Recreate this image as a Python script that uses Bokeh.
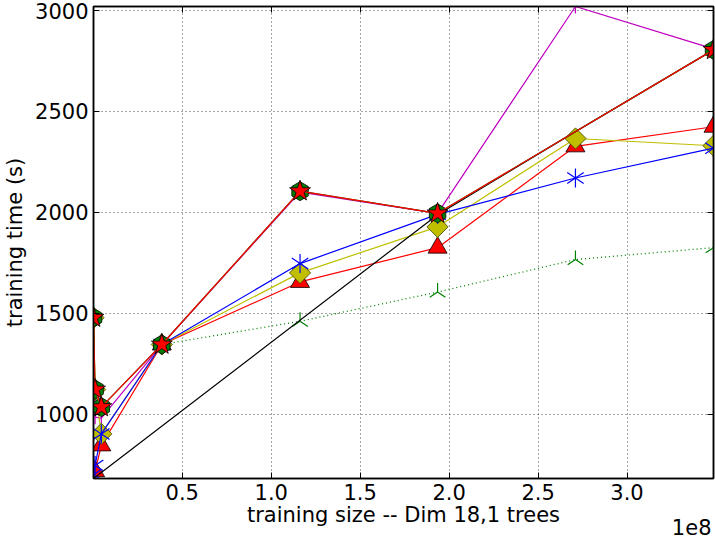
from math import pi
from bokeh.plotting import figure
from bokeh.models import Range1d, FixedTicker, LinearAxis, Label
from bokeh.embed import file_html
from bokeh.resources import INLINE

# ---- data ----
x_ticks = [50000000, 100000000, 150000000, 200000000, 250000000, 300000000]
x_tick_labels = ["0.5", "1.0", "1.5", "2.0", "2.5", "3.0"]
y_ticks = [1000, 1500, 2000, 2500, 3000]
y_tick_labels = ["1000", "1500", "2000", "2500", "3000"]

star_x = [1e5, 1e6, 4.5e6, 3.85e7, 1.162e8, 1.935e8, 3.486e8]
star_y = [1478, 1122, 1035, 1345, 2105, 1995, 2805]

pent_x = [1e5, 1e6, 4.5e6, 3.85e7, 1.162e8, 1.935e8, 3.486e8]
pent_y = [1478, 1122, 1035, 1345, 2105, 1995, 2805]

mag_x = [1e5, 1e6, 4.5e6, 3.85e7, 1.162e8, 1.935e8, 2.71e8, 3.486e8]
mag_y = [1478, 985, 980, 1345, 2100, 1995, 3020, 2810]

yel_x = [1e5, 1e6, 4.5e6, 3.85e7, 1.162e8, 1.935e8, 2.71e8, 3.486e8]
yel_y = [1478, 1122, 902, 1345, 1700, 1928, 2366, 2330]

blue_x = [1e5, 1e6, 4.5e6, 3.85e7, 1.162e8, 1.935e8, 2.71e8, 3.486e8]
blue_y = [700, 746, 902, 1345, 1746, 1990, 2170, 2318]

tri_x = [1e6, 4.5e6, 3.85e7, 1.162e8, 1.935e8, 2.71e8, 3.486e8]
tri_y = [717, 845, 1345, 1655, 1825, 2327, 2424]

gdot_x = [3.85e7, 1.162e8, 1.935e8, 2.71e8, 3.486e8]
gdot_y = [1345, 1460, 1605, 1766, 1825]

blk_x = [1e5, 1.935e8, 2.71e8, 3.486e8]
blk_y = [681, 1988, 2400, 2805]

FONT = "DejaVu Sans"
FS = "21px"

p = figure(width=715, height=545, output_backend="svg", toolbar_location=None,
           x_range=Range1d(1e5, 3.486e8), y_range=Range1d(681, 3020),
           min_border_left=93, min_border_right=2, min_border_top=6,
           min_border_bottom=59)
p.background_fill_color = "white"
p.border_fill_color = "white"
p.outline_line_color = "black"
p.outline_line_width = 1.5

p.xaxis.ticker = FixedTicker(ticks=x_ticks)
p.xaxis.major_label_overrides = dict(zip(x_ticks, x_tick_labels))
p.yaxis.ticker = FixedTicker(ticks=y_ticks)
p.yaxis.major_label_overrides = dict(zip(y_ticks, y_tick_labels))
p.xaxis.axis_label = "training size -- Dim 18,1 trees"
p.yaxis.axis_label = "training time (s)"

for ax in (p.xaxis[0], p.yaxis[0]):
    ax.major_tick_in = 6
    ax.major_tick_out = 0
    ax.minor_tick_line_color = None
    ax.axis_line_width = 1.5
    ax.axis_line_color = "black"
    ax.major_tick_line_color = "black"
    ax.major_label_text_font = FONT
    ax.major_label_text_font_size = FS
    ax.major_label_text_color = "black"
    ax.axis_label_text_font = FONT
    ax.axis_label_text_font_size = FS
    ax.axis_label_text_font_style = "normal"
    ax.axis_label_text_color = "black"
p.xaxis.major_label_standoff = 5
p.xaxis.axis_label_standoff = 0
p.yaxis.major_label_standoff = 5
p.yaxis.axis_label_standoff = 5

# tick marks on the right and top edges (no labels)
for loc, ticks in (("right", y_ticks), ("above", x_ticks)):
    ax = LinearAxis(ticker=FixedTicker(ticks=ticks),
                    major_label_overrides={t: "" for t in ticks},
                    major_label_standoff=0, major_tick_in=6, major_tick_out=0,
                    minor_tick_line_color=None, axis_line_width=1.5,
                    axis_line_color="black", major_tick_line_color="black")
    p.add_layout(ax, loc)

p.xgrid.ticker = FixedTicker(ticks=x_ticks)
p.ygrid.ticker = FixedTicker(ticks=y_ticks)
p.grid.grid_line_color = "black"
p.grid.grid_line_alpha = 0.7
p.grid.grid_line_dash = "1 3"
p.grid.grid_line_width = 1

# green dotted with tri_up markers
p.line(gdot_x, gdot_y, line_color="#008000", line_width=1.3, line_dash="1 3")
p.scatter(gdot_x, gdot_y, marker="y", angle=pi, size=18, line_color="#008000", line_width=1.2)

# red triangles
p.line(tri_x, tri_y, line_color="#FF0000", line_width=1.2)
p.scatter(tri_x, tri_y, marker="triangle", size=19, fill_color="#FF0000", line_color="black", line_width=0.8)

# magenta vlines
p.line(mag_x, mag_y, line_color="#BF00BF", line_width=1.2)
p.scatter(mag_x, mag_y, marker="dash", angle=pi / 2, size=14, line_color="#BF00BF", line_width=1.2)

# yellow diamonds
p.line(yel_x, yel_y, line_color="#BFBF00", line_width=1.2)
p.scatter(yel_x, yel_y, marker="square", angle=pi / 4, size=15, fill_color="#BFBF00", line_color="#404000", line_width=0.8)

# blue asterisks
p.line(blue_x, blue_y, line_color="#0000FF", line_width=1.2)
p.scatter(blue_x, blue_y, marker="y", size=19, line_color="#0000FF", line_width=1.2)
p.scatter(blue_x, blue_y, marker="y", angle=pi, size=19, line_color="#0000FF", line_width=1.2)

# black
p.line(blk_x, blk_y, line_color="black", line_width=1.2)

# green pentagons
p.line(pent_x, pent_y, line_color="#008000", line_width=1.2)
p.scatter(pent_x, pent_y, marker="hex", angle=pi / 2, size=19, fill_color="#008000", line_color="black", line_width=0.8)

# red stars
p.line(star_x, star_y, line_color="#FF0000", line_width=1.2)
p.scatter(star_x, star_y, marker="star", size=22, fill_color="#FF0000", line_color="black", line_width=0.8)

# exponent label, placed in the panel below the frame
p.add_layout(Label(x=618, y=27, x_units="screen", y_units="screen", text="1e8",
                   text_align="right", text_baseline="top",
                   text_font=FONT, text_font_size=FS, text_color="black"), "below")

open("out.html", "w").write(file_html(p, INLINE))
